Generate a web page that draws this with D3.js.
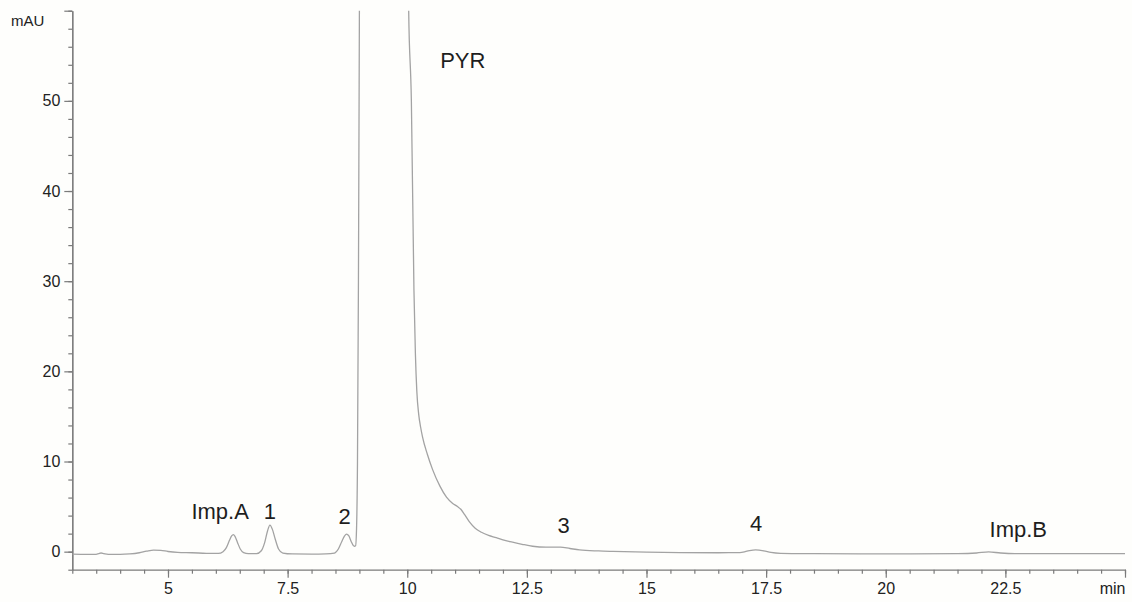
<!DOCTYPE html>
<html>
<head>
<meta charset="utf-8">
<script src="https://cdn.jsdelivr.net/npm/d3@7"></script>
<style>
  html, body { margin: 0; padding: 0; background: #fefefc; }
  svg { display: block; font-family: "Liberation Sans", Arial, sans-serif; }
  .axis path, .axis line { stroke: #7a7a7a; stroke-width: 1.2; }
  .axis text { fill: #222; font-size: 16px; }
  .trace { fill: none; stroke: #a3a3a3; stroke-width: 1.3; }
  .peak-label { fill: #1e1e1e; font-size: 22px; text-anchor: middle; }
</style>
</head>
<body>
<svg class="chromatogram"></svg>
<script>
// retention time (min)
var times = [3.0, 3.3, 3.5, 3.55, 3.6, 3.66, 3.75, 4.0, 4.2, 4.4, 4.55, 4.7, 4.85, 5.0, 5.2, 5.5, 5.8, 6.05,
    6.15, 6.22, 6.28, 6.33, 6.365, 6.4, 6.45, 6.51, 6.58, 6.68, 6.85, 6.95, 7.02, 7.08, 7.13, 7.18,
    7.24, 7.31, 7.4, 7.6, 8.0, 8.3, 8.48, 8.56, 8.63, 8.69, 8.73, 8.78, 8.83, 8.87, 8.895, 8.92,
    8.94, 8.96, 8.98, 9.0, 9.05, 9.5, 9.98, 10.03, 10.086, 10.14, 10.17, 10.2, 10.24, 10.28, 10.32,
    10.42, 10.53, 10.68, 10.82, 10.95, 11.05, 11.12, 11.2, 11.3, 11.42, 11.55, 11.7, 11.86, 12.0,
    12.2, 12.4, 12.62, 12.9, 13.2, 13.4, 13.6, 14.0, 14.3, 15.0, 15.7, 16.5, 16.95, 17.1, 17.28,
    17.45, 17.6, 17.8, 18.5, 19.5, 20.5, 21.5, 21.9, 22.15, 22.4, 22.7, 23.5, 25.0];

// detector signal (mAU)
var signal = [-0.28, -0.3, -0.3, -0.22, -0.15, -0.22, -0.3, -0.3, -0.25, -0.12, 0.05, 0.18, 0.15, 0.02, -0.08, -0.12, -0.18, -0.2,
    0.0, 0.45, 1.2, 1.75, 1.9, 1.7, 1.05, 0.3, -0.1, -0.22, -0.22, 0.1, 1.0, 2.3, 2.95, 2.5,
    1.4, 0.3, -0.15, -0.25, -0.27, -0.25, -0.15, 0.3, 1.1, 1.75, 1.95, 1.75, 1.1, 0.7, 0.6, 0.65,
    2.5, 10, 30, 60, 150, 700, 150, 60, 50, 29, 22, 17.8, 15.2, 13.8, 12.7,
    10.8, 9.1, 7.3, 6.05, 5.35, 5.0, 4.7, 4.1, 3.3, 2.6, 2.15, 1.8, 1.55, 1.3,
    1.05, 0.82, 0.6, 0.5, 0.5, 0.35, 0.2, 0.08, 0.03, -0.05, -0.1, -0.12, -0.1, 0.05, 0.2,
    0.1, -0.08, -0.18, -0.22, -0.24, -0.24, -0.22, -0.15, -0.02, -0.15, -0.22, -0.22, -0.22];

var xMajorTicks = [5, 7.5, 10, 12.5, 15, 17.5, 20, 22.5, 25];
var yMajorTicks = [0, 10, 20, 30, 40, 50, 60];
var yTickLabels = ["0", "10", "20", "30", "40", "50", ""];

var peakNames = ["Imp.A", "1", "2", "PYR", "3", "4", "Imp.B"];
var peakTimes = [6.09, 7.13, 8.69, 11.16, 13.27, 17.29, 22.77];
var peakLevels = [3.6, 3.63, 3.07, 53.6, 2.1, 2.33, 1.66];

var width = 1132;
var height = 602;
var margin = {top: 10.7, right: 7, bottom: 32.3, left: 72.3};

var x = d3.scaleLinear()
    .domain([3, 25])
    .range([margin.left, width - margin.right]);

var y = d3.scaleLinear()
    .domain([-2, 60])
    .range([height - margin.bottom, margin.top]);

var svg = d3.select('svg.chromatogram')
    .attr('width', width)
    .attr('height', height);

svg.append('clipPath')
    .attr('id', 'plot-clip')
    .append('rect')
    .attr('x', margin.left)
    .attr('y', margin.top)
    .attr('width', width - margin.left - margin.right)
    .attr('height', height - margin.top - margin.bottom);

// minor ticks first, major on top
svg.append('g')
    .attr('class', 'axis')
    .attr('transform', 'translate(0,' + y(-2) + ')')
    .call(d3.axisBottom(x).tickValues(d3.range(3, 25.01, 0.5)).tickSize(4).tickFormat('').tickSizeOuter(0));

var xAxis = svg.append('g')
    .attr('class', 'axis')
    .attr('transform', 'translate(0,' + y(-2) + ')')
    .call(d3.axisBottom(x).tickValues(xMajorTicks).tickSize(8).tickPadding(5).tickSizeOuter(0)
        .tickFormat(function(d) { return d === 25 ? 'min' : d; }));
xAxis.select('path').remove();
xAxis.selectAll('text')
    .attr('dy', '0.71em')
    .attr('text-anchor', function(d) { return d === 25 ? 'end' : 'middle'; });

svg.append('g')
    .attr('class', 'axis')
    .attr('transform', 'translate(' + x(3) + ',0)')
    .call(d3.axisLeft(y).tickValues(d3.range(-2, 60.01, 2)).tickSize(4).tickFormat('').tickSizeOuter(0));

svg.append('g')
    .attr('class', 'axis')
    .attr('transform', 'translate(' + x(3) + ',0)')
    .call(d3.axisLeft(y).tickValues(yMajorTicks).tickSize(8).tickPadding(4).tickSizeOuter(0)
        .tickFormat(function(d, i) { return yTickLabels[i]; }));

svg.append('text')
    .attr('x', 11)
    .attr('y', 26)
    .attr('fill', '#222')
    .style('font-size', '15px')
    .text('mAU');

var line = d3.line()
    .x(function(d, i) { return x(times[i]); })
    .y(function(d) { return y(d); })
    .curve(d3.curveMonotoneX);

svg.append('path')
    .attr('class', 'trace')
    .attr('clip-path', 'url(#plot-clip)')
    .attr('d', line(signal));

svg.selectAll('text.peak-label')
    .data(peakNames)
    .enter()
    .append('text')
    .attr('class', 'peak-label')
    .attr('x', function(d, i) { return x(peakTimes[i]); })
    .attr('y', function(d, i) { return y(peakLevels[i]); })
    .text(function(d) { return d; });
</script>
</body>
</html>
